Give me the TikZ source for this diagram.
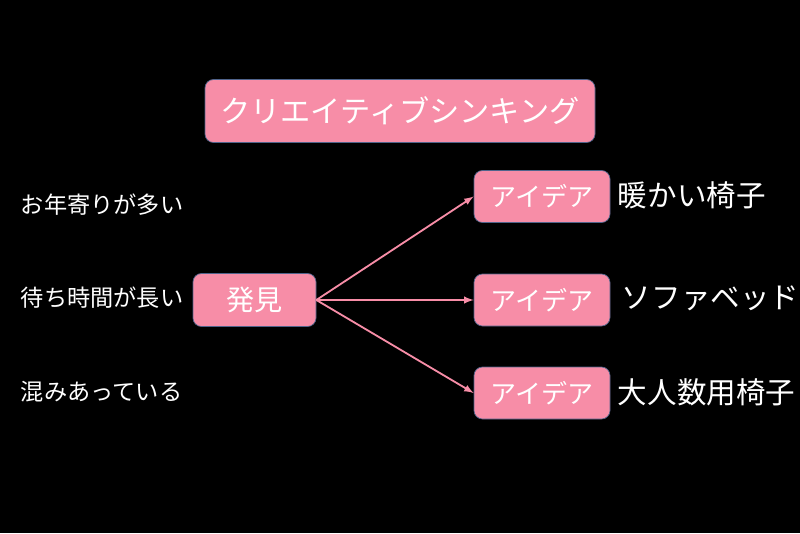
\documentclass[tikz,border=0pt]{standalone}
\usepackage{fontspec}
\usepackage{tikz}
\setmainfont{Noto Sans CJK JP}
\newcommand{\pxScale}[0]{0.025cm}
\definecolor{boxpink}{RGB}{247,141,167}
\definecolor{boxedge}{RGB}{80,100,140}

\begin{document}
\begin{tikzpicture}[x=\pxScale, y=-\pxScale]
  \tikzset{pinkbox/.style={fill=boxpink, draw=boxedge, line width=0.5pt, rounded corners=6pt, text=white, inner sep=0pt},
           leftnote/.style={text=white, anchor=west, font=\fontsize{16.5pt}{18pt}\selectfont},
           idea/.style={text=white, anchor=west, font=\fontsize{21pt}{24pt}\selectfont},
           flow/.style={draw=boxpink, line width=1.3pt, -latex}}
  \fill[black] (0,0) rectangle (800,533);
  \useasboundingbox (0,0) rectangle (800,533);
  \node[pinkbox, minimum width=390*\pxScale, minimum height=63*\pxScale, font=\fontsize{21.5pt}{24pt}\selectfont] (title) at (400,111) {クリエイティブシンキング};
  \node[pinkbox, minimum width=123*\pxScale, minimum height=53*\pxScale, font=\fontsize{20pt}{24pt}\selectfont] (find) at (254.5,300) {発見};
  \node[pinkbox, minimum width=136*\pxScale, minimum height=52*\pxScale, font=\fontsize{18.5pt}{22pt}\selectfont] (ideaA) at (542,196.5) {アイデア};
  \node[pinkbox, minimum width=136*\pxScale, minimum height=52*\pxScale, font=\fontsize{18.5pt}{22pt}\selectfont] (ideaB) at (542,300) {アイデア};
  \node[pinkbox, minimum width=136*\pxScale, minimum height=52*\pxScale, font=\fontsize{18.5pt}{22pt}\selectfont] (ideaC) at (542,393) {アイデア};
  % observations
  \node[leftnote] (obsA) at (16,205) {お年寄りが多い};
  \node[leftnote] (obsB) at (16,298) {待ち時間が長い};
  \node[leftnote] (obsC) at (16,392) {混みあっている};
  % ideas
  \node[idea] (chair) at (613,195) {暖かい椅子};
  \node[idea] (sofa) at (617,298) {ソファベッド};
  \node[idea] (bench) at (613,392) {大人数用椅子};
  \draw[flow] (find.east) -- (ideaA.west);
  \draw[flow] (find.east) -- (ideaB.west);
  \draw[flow] (find.east) -- (ideaC.west);
\end{tikzpicture}
\end{document}
